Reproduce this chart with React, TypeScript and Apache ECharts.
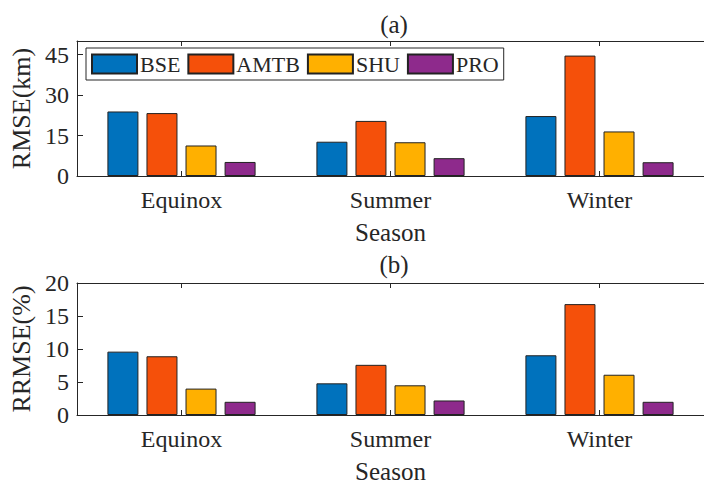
import React, { useEffect, useRef } from "react";
import * as echarts from "echarts";

const categories = ["Equinox", "Summer", "Winter"];
const seriesNames = ["BSE", "AMTB", "SHU", "PRO"];
const rmseBSE = [23.9, 12.7, 22.2];
const rmseAMTB = [23.3, 20.4, 44.6];
const rmseSHU = [11.3, 12.5, 16.5];
const rmsePRO = [5.2, 6.6, 5.1];
const rrmseBSE = [9.6, 4.8, 9.05];
const rrmseAMTB = [8.9, 7.6, 16.8];
const rrmseSHU = [4.0, 4.5, 6.1];
const rrmsePRO = [2.0, 2.2, 2.0];
const colors = ["#0072BD", "#F5500A", "#FFB000", "#8E2A8C"];

const FONT = "'Liberation Serif', 'Times New Roman', serif";
const TXT = "#262626";

export default function App() {
  const ref = useRef<HTMLDivElement>(null);
  useEffect(() => {
    if (!ref.current) return;
    const chart = echarts.init(ref.current, undefined, { renderer: "svg" });
    const top = [rmseBSE, rmseAMTB, rmseSHU, rmsePRO];
    const bot = [rrmseBSE, rrmseAMTB, rrmseSHU, rrmsePRO];
    const mkX = (gi: number, pos: "top" | "bottom", showName: boolean) => ({
      type: "category",
      gridIndex: gi,
      position: pos,
      data: categories,
      boundaryGap: true,
      name: showName ? "Season" : "",
      nameLocation: "middle",
      nameGap: 44,
      nameTextStyle: { fontFamily: FONT, fontSize: 25, color: TXT },
      axisLine: { show: true, lineStyle: { color: TXT, width: 1 } },
      axisTick: { show: true, inside: true, alignWithLabel: true, length: 5, lineStyle: { color: TXT } },
      axisLabel: { show: pos === "bottom", fontFamily: FONT, fontSize: 24, color: TXT, margin: 12 },
      splitLine: { show: false },
    });
    const mkY = (gi: number, max: number, interval: number, name: string) => ({
      type: "value",
      gridIndex: gi,
      min: 0,
      max,
      interval,
      name,
      nameLocation: "middle",
      nameGap: 42,
      nameTextStyle: { fontFamily: FONT, fontSize: 26, color: TXT },
      axisLine: { show: true, lineStyle: { color: TXT, width: 1 } },
      axisTick: { show: true, inside: true, length: 6, lineStyle: { color: TXT } },
      axisLabel: { fontFamily: FONT, fontSize: 24, color: TXT, margin: 8, showMaxLabel: max % interval === 0 },
      splitLine: { show: false },
    });
    const series: any[] = [];
    seriesNames.forEach((n, i) => {
      series.push({
        type: "bar", name: n, xAxisIndex: 0, yAxisIndex: 0, data: top[i],
        barWidth: 31, barGap: "26%",
        itemStyle: { color: colors[i], borderColor: "#222", borderWidth: 1 },
      });
    });
    seriesNames.forEach((n, i) => {
      series.push({
        type: "bar", name: n, xAxisIndex: 2, yAxisIndex: 1, data: bot[i],
        barWidth: 31, barGap: "26%",
        itemStyle: { color: colors[i], borderColor: "#222", borderWidth: 1 },
      });
    });
    chart.setOption({
      animation: false,
      backgroundColor: "#fff",
      grid: [
        { left: 77, top: 41, width: 636, height: 135 },
        { left: 77, top: 283, width: 636, height: 134 },
      ],
      xAxis: [mkX(0, "bottom", true), mkX(0, "top", false), mkX(1, "bottom", true), mkX(1, "top", false)],
      yAxis: [mkY(0, 50, 15, "RMSE(km)"), mkY(1, 20, 5, "RRMSE(%)")],
      legend: {
        data: seriesNames,
        left: 86,
        top: 48,
        orient: "horizontal",
        padding: [5, 5, 5, 5],
        itemGap: 7,
        itemWidth: 45,
        itemHeight: 19,
        borderColor: TXT,
        borderWidth: 1,
        backgroundColor: "#fff",
        icon: "rect",
        textStyle: { fontFamily: FONT, fontSize: 22, color: TXT, padding: [0, 0, 0, -2] },
      },
      graphic: [
        { type: "text", x: 394, y: 24, style: { text: "(a)", fontFamily: FONT, fontSize: 25, fill: TXT, textAlign: "center", textVerticalAlign: "middle" } },
        { type: "text", x: 394, y: 264, style: { text: "(b)", fontFamily: FONT, fontSize: 25, fill: TXT, textAlign: "center", textVerticalAlign: "middle" } },
      ],
      series,
    });
    return () => chart.dispose();
  }, []);
  return (
    <div style={{ position: "absolute", left: 0, top: 0, width: 704, height: 485, overflow: "hidden", background: "#fff" }}>
      <div ref={ref} style={{ width: 704, height: 485 }} />
    </div>
  );
}
